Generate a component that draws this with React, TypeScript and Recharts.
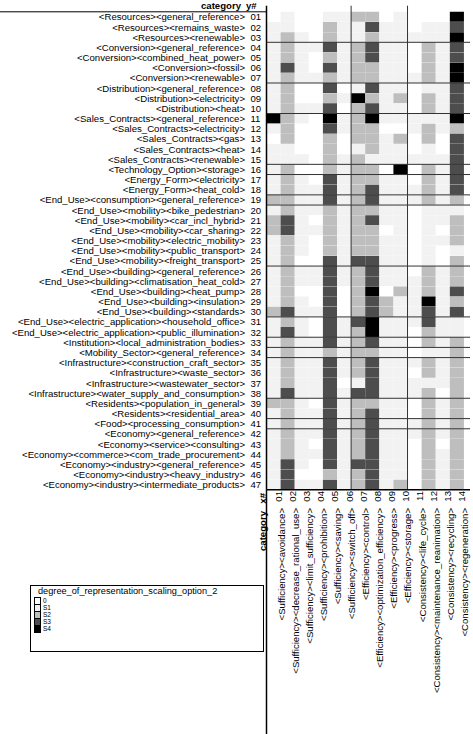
import { BarChart, Bar, Cell, XAxis, YAxis, ReferenceLine } from "recharts";

const ROW_IDS = [
  "01", "02", "03", "04", "05", "06", "07", "08", "09", "10",
  "11", "12", "13", "14", "15", "16", "17", "18", "19", "20",
  "21", "22", "23", "24", "25", "26", "27", "28", "29", "30",
  "31", "32", "33", "34", "35", "36", "37", "38", "39", "40",
  "41", "42", "43", "44", "45", "46", "47",
];

const ROW_LABELS = [
  "<Resources><general_reference>",
  "<Resources><remains_waste>",
  "<Resources><renewable>",
  "<Conversion><general_reference>",
  "<Conversion><combined_heat_power>",
  "<Conversion><fossil>",
  "<Conversion><renewable>",
  "<Distribution><general_reference>",
  "<Distribution><electricity>",
  "<Distribution><heat>",
  "<Sales_Contracts><general_reference>",
  "<Sales_Contracts><electricity>",
  "<Sales_Contracts><gas>",
  "<Sales_Contracts><heat>",
  "<Sales_Contracts><renewable>",
  "<Technology_Option><storage>",
  "<Energy_Form><electricity>",
  "<Energy_Form><heat_cold>",
  "<End_Use><consumption><general_reference>",
  "<End_Use><mobility><bike_pedestrian>",
  "<End_Use><mobility><car_incl_hybrid>",
  "<End_Use><mobility><car_sharing>",
  "<End_Use><mobility><electric_mobility>",
  "<End_Use><mobility><public_transport>",
  "<End_Use><mobility><freight_transport>",
  "<End_Use><building><general_reference>",
  "<End_Use><building><climatisation_heat_cold>",
  "<End_Use><building><heat_pump>",
  "<End_Use><building><insulation>",
  "<End_Use><building><standards>",
  "<End_Use><electric_application><household_office>",
  "<End_Use><electric_application><public_illumination>",
  "<Institution><local_administration_bodies>",
  "<Mobility_Sector><general_reference>",
  "<Infrastructure><construction_craft_sector>",
  "<Infrastructure><waste_sector>",
  "<Infrastructure><wastewater_sector>",
  "<Infrastructure><water_supply_and_consumption>",
  "<Residents><population_in_general>",
  "<Residents><residential_area>",
  "<Food><processing_consumption>",
  "<Economy><general_reference>",
  "<Economy><service><consulting>",
  "<Economy><commerce><com_trade_procurement>",
  "<Economy><industry><general_reference>",
  "<Economy><industry><heavy_industry>",
  "<Economy><industry><intermediate_products>",
];

const COL_IDS = ["01", "02", "03", "04", "05", "06", "07", "08", "09", "10", "11", "12", "13", "14"];

const COL_LABELS = [
  "<Sufficiency><avoidance>",
  "<Sufficiency><decrease_rational_use>",
  "<Sufficiency><limit_sufficiency>",
  "<Sufficiency><prohibition>",
  "<Sufficiency><saving>",
  "<Sufficiency><switch_off>",
  "<Efficiency><control>",
  "<Efficiency><optimization_efficiency>",
  "<Efficiency><progress>",
  "<Efficiency><storage>",
  "<Consistency><life_cycle>",
  "<Consistency><maintenance_reanimation>",
  "<Consistency><recycling>",
  "<Consistency><regeneration>",
];

const LEVELS = ["0", "S1", "S2", "S3", "S4"];
const LEVEL_COLORS = ["#ffffff", "#f2f2f2", "#bebebe", "#4d4d4d", "#000000"];

// one row per y#, one entry per x# (index into LEVELS)
const LEVEL_MATRIX = [
  [0, 1, 0, 0, 1, 1, 2, 2, 0, 1, 0, 0, 0, 4],
  [1, 1, 0, 0, 2, 1, 1, 3, 1, 1, 0, 1, 1, 3],
  [1, 2, 1, 0, 2, 1, 1, 2, 1, 1, 1, 1, 1, 4],
  [1, 2, 1, 1, 3, 1, 2, 3, 1, 1, 0, 2, 1, 3],
  [1, 2, 1, 0, 2, 1, 2, 3, 1, 1, 0, 2, 1, 3],
  [1, 3, 1, 0, 3, 1, 2, 2, 1, 1, 0, 2, 1, 4],
  [1, 2, 1, 1, 2, 1, 2, 2, 1, 1, 1, 2, 1, 4],
  [1, 2, 0, 0, 3, 0, 1, 3, 1, 1, 0, 1, 1, 3],
  [1, 2, 0, 0, 2, 1, 4, 2, 1, 2, 0, 2, 1, 3],
  [1, 2, 1, 1, 3, 0, 2, 3, 1, 1, 0, 2, 1, 3],
  [4, 2, 1, 0, 4, 1, 2, 4, 1, 1, 1, 1, 1, 4],
  [1, 2, 0, 0, 3, 1, 2, 2, 0, 0, 1, 2, 1, 2],
  [0, 2, 0, 0, 2, 0, 2, 2, 1, 2, 0, 2, 0, 3],
  [1, 1, 0, 0, 2, 0, 1, 2, 1, 1, 0, 1, 0, 3],
  [1, 1, 1, 0, 2, 1, 2, 1, 1, 1, 1, 1, 1, 3],
  [1, 2, 0, 0, 2, 1, 2, 2, 0, 4, 0, 2, 1, 3],
  [1, 2, 1, 0, 3, 1, 2, 2, 1, 1, 0, 2, 1, 3],
  [1, 2, 1, 1, 3, 1, 2, 3, 1, 1, 1, 2, 1, 3],
  [2, 2, 1, 1, 3, 1, 2, 3, 1, 1, 1, 2, 1, 2],
  [1, 2, 1, 1, 2, 1, 2, 2, 1, 1, 0, 1, 1, 1],
  [2, 3, 1, 0, 2, 1, 2, 3, 1, 1, 0, 1, 1, 2],
  [2, 3, 1, 1, 2, 1, 2, 2, 0, 1, 0, 1, 0, 2],
  [1, 2, 1, 0, 2, 1, 2, 2, 1, 1, 0, 1, 1, 2],
  [1, 2, 1, 0, 2, 1, 2, 2, 1, 1, 0, 1, 0, 1],
  [1, 2, 0, 0, 3, 1, 3, 3, 1, 1, 0, 1, 0, 2],
  [1, 2, 1, 1, 3, 1, 2, 3, 1, 1, 0, 2, 1, 2],
  [1, 2, 1, 1, 3, 1, 2, 3, 1, 1, 1, 2, 1, 2],
  [1, 2, 0, 0, 3, 0, 2, 4, 0, 2, 1, 2, 1, 3],
  [1, 2, 1, 0, 3, 0, 2, 3, 2, 1, 1, 4, 1, 2],
  [2, 3, 1, 1, 3, 0, 2, 3, 2, 1, 1, 3, 1, 3],
  [1, 2, 1, 0, 3, 1, 3, 4, 1, 1, 1, 3, 1, 1],
  [1, 3, 1, 0, 3, 1, 2, 4, 1, 1, 0, 2, 1, 1],
  [1, 2, 1, 1, 3, 1, 2, 3, 1, 1, 0, 2, 1, 2],
  [1, 2, 1, 1, 2, 1, 2, 2, 1, 1, 0, 1, 1, 2],
  [1, 2, 1, 1, 3, 1, 2, 3, 1, 1, 1, 2, 1, 2],
  [1, 2, 1, 1, 3, 1, 2, 3, 1, 1, 0, 2, 1, 2],
  [1, 2, 1, 1, 3, 0, 1, 3, 1, 1, 1, 1, 1, 2],
  [1, 3, 1, 1, 3, 1, 3, 3, 1, 1, 1, 2, 0, 2],
  [2, 2, 1, 0, 3, 1, 2, 2, 1, 1, 0, 2, 1, 2],
  [1, 2, 1, 1, 3, 1, 2, 3, 1, 1, 0, 2, 1, 2],
  [1, 2, 1, 1, 3, 1, 2, 3, 1, 1, 1, 2, 1, 2],
  [1, 2, 1, 1, 3, 1, 2, 3, 1, 1, 1, 2, 1, 2],
  [1, 2, 1, 0, 3, 1, 2, 3, 1, 1, 0, 2, 0, 2],
  [1, 2, 1, 1, 3, 1, 2, 3, 1, 1, 0, 2, 1, 2],
  [1, 3, 1, 0, 3, 1, 3, 3, 1, 1, 0, 2, 1, 2],
  [1, 3, 0, 0, 2, 1, 2, 3, 1, 1, 0, 2, 1, 2],
  [1, 3, 1, 1, 3, 1, 2, 3, 1, 2, 0, 2, 1, 2],
];

// first y# of each group after the first (a separator is drawn above it)
const ROW_GROUP_STARTS = ["04", "08", "11", "16", "17", "19", "20", "26", "31", "33", "34", "35", "39", "41", "42"];
// x# after which a separator is drawn
const COL_GROUP_BREAKS = [6, 10];

const LEGEND_TITLE = "degree_of_representation_scaling_option_2";

const FONT = '"Liberation Sans", Arial, Helvetica, sans-serif';
const FS = 9.6;

const W = 473;
const H = 734;
const LABEL_W = 266.5;
const PLOT_TOP = 5.7;
const PLOT_BOTTOM = 489.8;
const TOP_PAD = 6.1;
const X_MAX = 14.43;

const chartData = ROW_IDS.map((id) => {
  const row: Record<string, any> = { id };
  COL_IDS.forEach((c) => {
    row["c" + c] = 1;
  });
  return row;
});

const colTicks = COL_IDS.map((_, i) => i + 0.5);

function RowTick(props: any) {
  const { y, payload } = props;
  const i = ROW_IDS.indexOf(payload.value);
  return (
    <g>
      {i === 0 && (
        <g>
          <text x={241} y={9} textAnchor="end" fontSize={FS} fontWeight="bold" fontFamily={FONT} fill="#000">
            category
          </text>
          <text x={246} y={9} fontSize={FS} fontWeight="bold" fontFamily={FONT} fill="#000">
            y#
          </text>
          <line x1={0} x2={LABEL_W} y1={PLOT_TOP + TOP_PAD} y2={PLOT_TOP + TOP_PAD} stroke="#000" strokeWidth={1} />
        </g>
      )}
      <text x={245} y={y} textAnchor="end" dominantBaseline="central" fontSize={FS} fontFamily={FONT} fill="#000">
        {ROW_LABELS[i]}
      </text>
      <text x={250.5} y={y} dominantBaseline="central" fontSize={FS} fontFamily={FONT} fill="#000">
        {payload.value}
      </text>
    </g>
  );
}

function ColTick(props: any) {
  const { x, payload } = props;
  const i = Math.floor(payload.value);
  const nx = x + 5;
  const lx = x + 7.5;
  const ny = 491;
  const ly = 508;
  return (
    <g>
      {i === 0 && (
        <g>
          <text transform={`rotate(-90 262 493)`} x={262} y={493} textAnchor="end" dominantBaseline="central" fontSize={FS} fontWeight="bold" fontFamily={FONT} fill="#000">
            x#
          </text>
          <text transform={`rotate(-90 262 511)`} x={262} y={511} textAnchor="end" dominantBaseline="central" fontSize={FS} fontWeight="bold" fontFamily={FONT} fill="#000">
            category
          </text>
          <line x1={LABEL_W} x2={LABEL_W} y1={PLOT_BOTTOM} y2={H} stroke="#000" strokeWidth={1.5} />
        </g>
      )}
      <text transform={`rotate(-90 ${nx} ${ny})`} x={nx} y={ny} textAnchor="end" dominantBaseline="central" fontSize={FS} fontFamily={FONT} fill="#000">
        {COL_IDS[i]}
      </text>
      <text transform={`rotate(-90 ${lx} ${ly})`} x={lx} y={ly} textAnchor="end" dominantBaseline="central" fontSize={FS} fontFamily={FONT} fill="#000">
        {COL_LABELS[i]}
      </text>
    </g>
  );
}

function LegendBox() {
  return (
    <div
      style={{
        position: "absolute",
        left: 30,
        top: 585,
        width: 232,
        height: 65,
        border: "1px solid #000",
        background: "#fff",
        fontFamily: FONT,
        color: "#000",
      }}
    >
      <div style={{ position: "absolute", left: 7, top: 0, fontSize: 9.2, lineHeight: "10px", whiteSpace: "nowrap" }}>
        {LEGEND_TITLE}
      </div>
      {LEVELS.map((lv, k) => (
        <div key={lv} style={{ position: "absolute", left: 3, top: 11 + k * 7, height: 7, display: "flex", alignItems: "center" }}>
          <div style={{ width: 5, height: 6, border: "0.8px solid #000", background: LEVEL_COLORS[k] }} />
          <span style={{ marginLeft: 2, fontSize: 6.5, lineHeight: "7px" }}>{lv}</span>
        </div>
      ))}
    </div>
  );
}

export default function App() {
  return (
    <div style={{ position: "absolute", left: 0, top: 0, width: W, height: H, overflow: "hidden", background: "#fff" }}>
      <BarChart
        width={W}
        height={H}
        data={chartData}
        layout="vertical"
        barCategoryGap={0}
        barGap={0}
        margin={{ top: PLOT_TOP, right: W - 470, bottom: 0, left: 0 }}
      >
        <XAxis
          type="number"
          domain={[0, X_MAX]}
          ticks={colTicks}
          interval={0}
          height={H - PLOT_BOTTOM}
          tick={<ColTick />}
          tickLine={false}
          axisLine={{ stroke: "#000", strokeWidth: 1.5 }}
          allowDataOverflow
        />
        <XAxis
          xAxisId="top"
          orientation="top"
          type="number"
          domain={[0, X_MAX]}
          height={0}
          tick={false}
          tickLine={false}
          axisLine={{ stroke: "#000", strokeWidth: 1.5 }}
          allowDataOverflow
        />
        <YAxis
          type="category"
          dataKey="id"
          width={LABEL_W}
          interval={0}
          padding={{ top: TOP_PAD, bottom: 0 }}
          tick={<RowTick />}
          tickLine={false}
          axisLine={{ stroke: "#000", strokeWidth: 1.5 }}
        />
        <YAxis
          yAxisId="right"
          orientation="right"
          type="category"
          dataKey="id"
          width={0}
          tick={false}
          tickLine={false}
          axisLine={{ stroke: "#000", strokeWidth: 1.5 }}
        />
        {COL_IDS.map((c, j) => (
          <Bar key={c} dataKey={"c" + c} stackId="cells" isAnimationActive={false}>
            {ROW_IDS.map((r, i) => (
              <Cell key={r} fill={LEVEL_COLORS[LEVEL_MATRIX[i][j]]} />
            ))}
          </Bar>
        ))}
        {ROW_GROUP_STARTS.map((r) => (
          <ReferenceLine key={"r" + r} y={r} position="start" stroke="#333" strokeWidth={1} />
        ))}
        {COL_GROUP_BREAKS.map((c) => (
          <ReferenceLine key={"c" + c} x={c} stroke="#333" strokeWidth={1} />
        ))}
      </BarChart>
      <LegendBox />
    </div>
  );
}
